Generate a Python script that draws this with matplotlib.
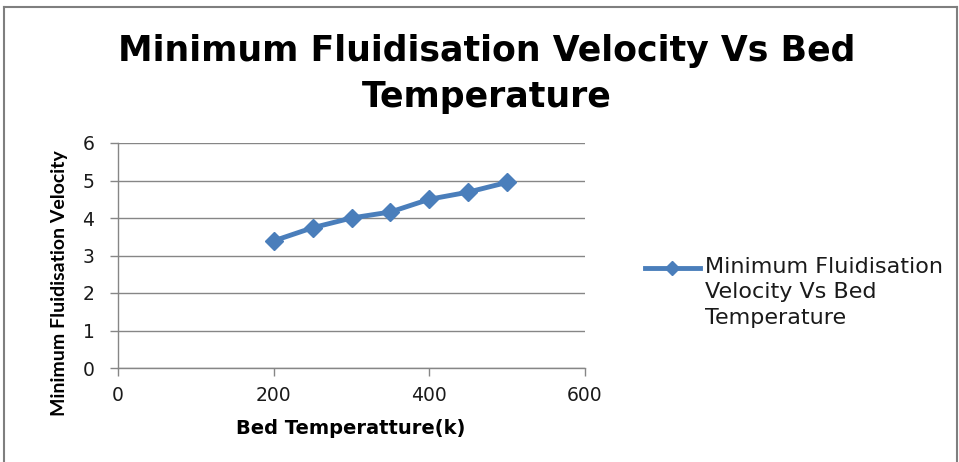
import matplotlib
matplotlib.use("Agg")
import matplotlib.pyplot as plt
from matplotlib.lines import Line2D

temperature = [200, 250, 300, 350, 400, 450, 500]
velocity = [3.39, 3.74, 4.0, 4.16, 4.5, 4.69, 4.95]
x_ticks = [0, 200, 400, 600]
y_ticks = [0, 1, 2, 3, 4, 5, 6]

title = "Minimum Fluidisation Velocity Vs Bed\nTemperature"
series_name = "Minimum Fluidisation\nVelocity Vs Bed\nTemperature"
xlabel = "Bed Temperatture(k)"
ylabel = "Minimum Fluidisation Velocity"

plt.rcParams['font.family'] = ['DejaVu Sans']
W, H = 959, 462
fig = plt.figure(figsize=(W/100, H/100), dpi=100)
ax = fig.add_axes([118/W, 1-368/H, (585-118)/W, (368-143)/H])

color = "#4a7ebb"
ax.plot(temperature, velocity, color=color, lw=3.5, marker="D", ms=9.5,
        markeredgecolor=color, markerfacecolor=color, solid_capstyle="round")

ax.set_xlim(0, 600)
ax.set_ylim(0, 6)
ax.set_xticks(x_ticks)
ax.set_yticks(y_ticks)
ax.grid(axis="y", color="#868686", lw=1)
ax.set_axisbelow(True)
for s in ["top", "right"]:
    ax.spines[s].set_visible(False)
for s in ["left", "bottom"]:
    ax.spines[s].set_color("#868686")
    ax.spines[s].set_linewidth(1)
ax.tick_params(axis="both", direction="out", length=6, width=1, color="#868686",
               labelsize=13.5, labelcolor="#1a1a1a")
ax.tick_params(axis="y", pad=11)
ax.tick_params(axis="x", pad=7)

fig.text(487/W, 1-74/H, title, ha="center", va="center", fontsize=25,
         fontweight="bold", linespacing=1.45)
fig.text(351/W, 1-428/H, xlabel, ha="center", va="center", fontsize=14,
         fontweight="bold")
fig.text(60/W, 1-283/H, ylabel, ha="center", va="center", fontsize=14,
         fontweight="bold", rotation=90, family="Lato")

# legend
fig.add_artist(Line2D([645/W, 700/W], [1-268/H, 1-268/H], color=color, lw=3.5,
                      transform=fig.transFigure))
fig.add_artist(Line2D([672/W], [1-268/H], color=color, marker="D", ms=7,
                      transform=fig.transFigure))
fig.text(705/W, 1-257/H, series_name, ha="left", va="top", fontsize=16,
         linespacing=1.33, color="#1a1a1a", transform=fig.transFigure)

# border
bc = "#7f7f7f"
fig.add_artist(Line2D([4/W, 4/W], [0, 1-7/H], color=bc, lw=1.5, transform=fig.transFigure))
fig.add_artist(Line2D([4/W, 957/W], [1-7/H, 1-7/H], color=bc, lw=1.5, transform=fig.transFigure))
fig.add_artist(Line2D([957/W, 957/W], [0, 1-7/H], color=bc, lw=1.5, transform=fig.transFigure))

fig.savefig("out.png", dpi=100)
